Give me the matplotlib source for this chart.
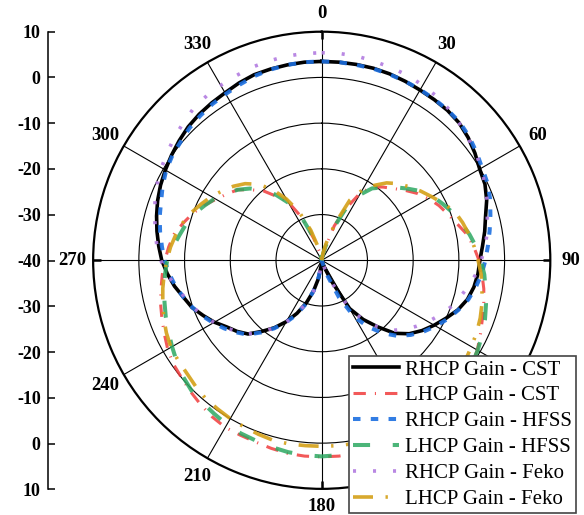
import matplotlib
matplotlib.use("Agg")
import matplotlib.pyplot as plt
import numpy as np

plt.rcParams['font.family'] = ['Liberation Serif', 'DejaVu Serif']
plt.rcParams['lines.scale_dashes'] = False

# angles in degrees, 5 degree steps (0..355)
angles = np.arange(0, 360, 5)

rhcp_cst = [3.5, 3.5, 3.5, 3.5, 3.4, 3.2, 3.0, 2.9, 2.8, 2.5, 1.8, 0.9,
            -0.1, -0.6, -1.6, -2.9, -3.8, -4.7, -5.4, -5.7, -6.2, -7.0, -8.3, -10.0,
            -11.6, -13.2, -15.0, -17.4, -21.0, -24.2, -27.8, -35.0, -38.5, -40, -40, -40,
            -40, -39.0, -36.0, -33.0, -30.0, -27.2, -24.5, -22.0, -19.7, -17.2, -15.8, -14.6,
            -12.9, -11.4, -9.8, -8.7, -7.3, -6.1, -5.0, -4.2, -3.4, -2.6, -1.8, -1.1,
            -0.5, 0.1, 0.7, 1.3, 1.7, 2.0, 2.3, 2.8, 3.2, 3.3, 3.4, 3.5]

lhcp_cst = [-40, -40, -39.0, -37.5, -32.0, -27.5, -22.8, -20.4, -19.1, -17.8, -16.2, -14.5,
            -13.0, -11.7, -10.6, -9.3, -7.7, -6.6, -5.6, -4.8, -4.0, -3.3, -2.6, -1.7,
            -0.7, 0.0, 0.5, 1.0, 1.4, 1.8, 2.1, 2.3, 2.5, 2.7, 2.9, 3.0,
            3.0, 3.0, 2.9, 2.6, 2.3, 2.2, 2.2, 1.8, 1.2, 0.6, 0.0, -0.4,
            -1.1, -2.0, -2.8, -3.5, -4.3, -5.0, -5.7, -6.4, -7.2, -8.6, -10.0, -11.6,
            -13.3, -14.7, -16.0, -18.2, -20.2, -23.0, -25.2, -29.6, -35.0, -38.0, -39.5, -40]

rhcp_hfss = [3.5, 3.5, 3.4, 3.4, 3.3, 3.2, 3.1, 3.0, 2.9, 2.7, 2.1, 1.3,
             0.5, 0.0, -0.8, -1.8, -2.7, -3.5, -4.2, -4.9, -5.8, -6.8, -8.2, -9.6,
             -11.2, -12.8, -14.6, -16.6, -19.2, -22.2, -25.6, -31.0, -36.5, -39.5, -40, -40,
             -40, -39.5, -36.5, -33.0, -29.8, -26.8, -24.3, -21.8, -19.4, -17.0, -15.5, -14.0,
             -12.6, -11.2, -9.9, -8.7, -7.5, -6.5, -5.6, -4.9, -4.1, -3.3, -2.6, -1.6,
             -0.7, -0.1, 0.3, 0.9, 1.3, 1.7, 2.0, 2.4, 2.9, 3.2, 3.4, 3.5]

lhcp_hfss = [-40, -40, -39.0, -37.0, -32.5, -27.5, -23.5, -20.8, -19.2, -17.4, -15.6, -13.6,
             -12.0, -10.8, -9.5, -8.4, -7.2, -6.1, -5.2, -4.3, -3.6, -2.8, -2.0, -1.3,
             -0.6, 0.0, 0.5, 0.9, 1.3, 1.6, 1.9, 2.1, 2.3, 2.5, 2.7, 2.8,
             2.9, 2.8, 2.6, 2.3, 2.0, 1.8, 1.5, 1.0, 0.6, 0.3, -0.4, -1.3,
             -2.2, -3.0, -3.7, -4.4, -5.0, -5.6, -6.2, -7.3, -8.4, -9.3, -10.3, -11.7,
             -13.0, -14.5, -16.0, -17.8, -20.0, -22.5, -25.5, -29.8, -34.5, -38.0, -39.5, -40]

rhcp_feko = [5.4, 5.4, 5.3, 5.0, 4.8, 4.6, 4.2, 3.8, 3.2, 2.5, 1.7, 1.1,
             0.3, -0.6, -1.5, -2.5, -3.2, -4.1, -5.1, -6.1, -7.4, -8.7, -10.0, -11.6,
             -13.1, -14.8, -16.5, -18.3, -21.0, -24.0, -27.8, -34.0, -38.0, -40, -40, -40,
             -40, -39.0, -36.0, -33.0, -30.0, -27.0, -24.3, -22.0, -19.5, -17.2, -15.8, -14.3,
             -12.8, -11.4, -10.0, -8.9, -7.6, -5.9, -4.8, -3.8, -3.0, -2.2, -1.2, -0.3,
             0.5, 1.2, 2.0, 2.7, 3.5, 3.9, 4.2, 4.5, 4.9, 5.1, 5.3, 5.4]

lhcp_feko = [-40, -40, -38.5, -36.0, -31.5, -25.5, -22.3, -20.0, -17.9, -16.3, -15.0, -13.6,
             -12.2, -10.6, -9.0, -8.1, -7.3, -6.5, -5.8, -5.0, -4.4, -3.7, -3.1, -2.6,
             -2.2, -1.7, -1.2, -0.8, -0.4, 0.0, 0.3, 0.5, 0.6, 0.7, 0.7, 0.7,
             0.7, 0.7, 0.8, 0.8, 0.5, 0.2, 0.0, -0.3, -0.5, -1.0, -1.5, -1.7,
             -1.9, -2.5, -3.2, -4.0, -4.7, -5.4, -6.1, -6.8, -7.6, -8.5, -9.6, -10.9,
             -12.1, -13.5, -14.8, -16.3, -18.3, -21.0, -24.5, -28.3, -33.0, -37.0, -39.5, -40]

labels = ['RHCP Gain - CST', 'LHCP Gain - CST', 'RHCP Gain - HFSS',
          'LHCP Gain - HFSS', 'RHCP Gain - Feko', 'LHCP Gain - Feko']
spoke_angles = list(range(0, 360, 30))
# 120 and 150 sit under the legend in the original
angle_labels = [0, 30, 60, 90, 180, 210, 240, 270, 300, 330]
left_labels = [10, 0, -10, -20, -30, -40, -30, -20, -10, 0, 10]

series = [rhcp_cst, lhcp_cst, rhcp_hfss, lhcp_hfss, rhcp_feko, lhcp_feko]
styles = [
    dict(color='black', lw=2.6),
    dict(color='#F03C3C', lw=2.2, alpha=0.85, dashes=(8.9, 6.5, 0.8, 6.5)),
    dict(color='#1C6FE0', lw=2.9, alpha=0.9, dashes=(5.4, 7.4)),
    dict(color='#2DA862', lw=2.9, alpha=0.85, dashes=(12.3, 16.3)),
    dict(color='#B27BE0', lw=2.6, alpha=0.9, dashes=(2.2, 12.2)),
    dict(color='#D4A017', lw=2.6, alpha=0.9, dashes=(14.4, 9.0, 1.7, 9.0)),
]

fig = plt.figure(figsize=(5.84, 5.15), dpi=100)
ax = fig.add_axes([0.1595, 0.0507, 0.7828, 0.8878], projection='polar')
ax.set_theta_zero_location('N')
ax.set_theta_direction(-1)

theta = np.deg2rad(np.r_[angles, 360])
for vals, lab, st in zip(series, labels, styles):
    ax.plot(theta, np.r_[vals, vals[0]], label=lab, **st)

ax.set_ylim(-40, 10)
ax.set_yticks([-30, -20, -10, 0])
ax.set_yticklabels([])
ax.set_xticks(np.deg2rad(spoke_angles))
ax.set_xticklabels([])
ax.set_xticks(np.deg2rad([a for a in range(0, 360, 10) if a % 30]), minor=True)
ax.tick_params(axis='x', which='major', length=0)
ax.tick_params(axis='x', which='minor', direction='in', length=5, width=1.2, color='black')
ax.grid(True, color='black', lw=0.8)
ax.spines['polar'].set_linewidth(1.6)

# thicker ticks at the cardinal directions
ax.vlines(np.deg2rad([0, 90, 180, 270]), 8.3, 10, color='black', lw=1.8, zorder=3)

for a in angle_labels:
    r = 13.9 if a in (0, 180) else 14.6
    ax.text(np.deg2rad(a), r, str(a), ha='center', va='center', fontsize=13.5,
            fontweight='bold', clip_on=False)

leg = ax.legend(loc='lower right', bbox_to_anchor=(576 / 584, 2 / 515),
                bbox_transform=fig.transFigure, borderaxespad=0, fontsize=15,
                fancybox=False, framealpha=1, edgecolor='#444444',
                handlelength=2.24, handletextpad=0.27, borderpad=0.2,
                labelspacing=0.3)
leg.get_frame().set_linewidth(1.2)

# linear gain scale on the left
ax2 = fig.add_axes([48.3 / 584, 0.0499, 0.0001, 0.8885])
ax2.patch.set_visible(False)
ax2.set_ylim(-50, 50)
ax2.set_yticks(np.arange(50, -51, -10), [str(v) for v in left_labels])
ax2.set_xticks([])
for s in ['top', 'right', 'bottom']:
    ax2.spines[s].set_visible(False)
ax2.spines['left'].set_linewidth(1.1)
ax2.tick_params(axis='y', direction='in', length=5, width=1.1, pad=5.5, labelsize=13)
for t in ax2.get_yticklabels():
    t.set_fontweight('bold')

fig.savefig('out.png', dpi=100)
